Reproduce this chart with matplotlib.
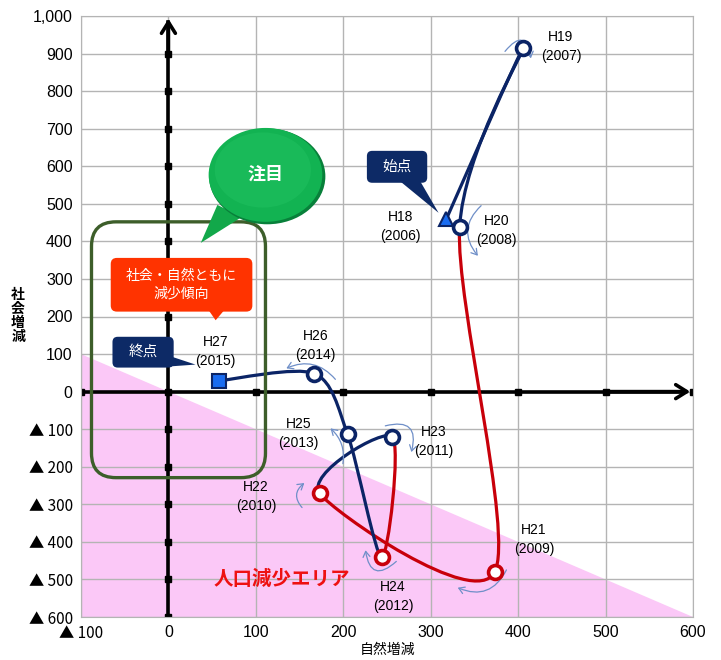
import matplotlib.pyplot as plt
import numpy as np
from matplotlib.path import Path
from matplotlib.patches import PathPatch, Polygon, Ellipse, FancyBboxPatch, FancyArrowPatch

plt.rcParams['font.family'] = ['Liberation Sans', 'Noto Sans CJK JP', 'DejaVu Sans']

# data
years = ['H18\n(2006)', 'H19\n(2007)', 'H20\n(2008)', 'H21\n(2009)', 'H22\n(2010)',
         'H23\n(2011)', 'H24\n(2012)', 'H25\n(2013)', 'H26\n(2014)', 'H27\n(2015)']
natural = [318, 406, 333, 373, 173, 256, 244, 205, 167, 58]      # 自然増減
social = [460, 915, 437, -481, -271, -120, -441, -114, 48, 29]   # 社会増減

x_ticks = [-100, 0, 100, 200, 300, 400, 500, 600]
x_ticklabels = ['▲ 100', '0', '100', '200', '300', '400', '500', '600']
y_ticks = list(range(-600, 1001, 100))
y_ticklabels = ['▲ 600', '▲ 500', '▲ 400', '▲ 300', '▲ 200', '▲ 100', '0',
                '100', '200', '300', '400', '500', '600', '700', '800', '900', '1,000']

navy = '#0b2466'
red = '#c8000a'
seg_colors = [navy, navy, red, red, navy, red, navy, navy, navy]
pt_edges = [navy, navy, navy, red, red, navy, red, navy, navy, navy]

# label positions (data units)
lab_x = [265, 449, 375, 418, 100, 303, 257, 149, 168, 54]
lab_y = [439, 919, 428, -394, -279, -133, -545, -112, 122, 106]

fig = plt.figure(figsize=(7.21, 6.6), dpi=100)
ax = fig.add_axes([81 / 721, 1 - 617 / 660, 612 / 721, 601 / 660])
ax.set_xlim(-100, 600)
ax.set_ylim(-600, 1000)

# population decrease area
ax.add_patch(Polygon([(-100, 100), (600, -600), (-100, -600)], closed=True,
                     facecolor='#fbc8f7', edgecolor='none', zorder=0))

ax.set_xticks(x_ticks)
ax.set_xticklabels(x_ticklabels, fontsize=11.5)
ax.set_yticks(y_ticks)
ax.set_yticklabels(y_ticklabels, fontsize=11.5)
for t in ax.get_xticklabels() + ax.get_yticklabels():
    if t.get_text().startswith('▲'):
        t.set_family(['Noto Sans CJK JP', 'DejaVu Sans'])
        t.set_fontsize(11)
ax.tick_params(length=0, pad=6)
ax.grid(True, color='#b4b4b4', lw=1)
ax.set_axisbelow(True)
for s in ax.spines.values():
    s.set_color('#b4b4b4')

# thick axes with arrows
ax.plot([0, 0], [-600, 985], color='black', lw=2.6, zorder=2)
ax.plot([-100, 590], [0, 0], color='black', lw=2.6, zorder=2)
ax.annotate('', xy=(0, 1000), xytext=(0, 900),
            arrowprops=dict(arrowstyle='->,head_length=0.8,head_width=0.5', lw=2.6, color='black'), zorder=2)
ax.annotate('', xy=(600, 0), xytext=(500, 0),
            arrowprops=dict(arrowstyle='->,head_length=0.8,head_width=0.5', lw=2.6, color='black'), zorder=2)
ax.plot([0] * 16, y_ticks[:-1], 's', color='black', ms=5, zorder=2)
ax.plot([t for t in x_ticks if t != 0], [0] * 7, 's', color='black', ms=5, zorder=2)

# smoothed line, one bezier piece per year
P = np.column_stack([natural, social]).astype(float)
Pp = np.vstack([P[0], P, P[-1]])
for i in range(len(P) - 1):
    p0, p1, p2, p3 = Pp[i], Pp[i + 1], Pp[i + 2], Pp[i + 3]
    c1 = p1 + (p2 - p0) / 7
    c2 = p2 - (p3 - p1) / 7
    path = Path([p1, c1, c2, p2], [Path.MOVETO, Path.CURVE4, Path.CURVE4, Path.CURVE4])
    ax.add_patch(PathPatch(path, facecolor='none', edgecolor=seg_colors[i], lw=2.3, zorder=3))

# markers
for i in range(1, 9):
    ax.plot(natural[i], social[i], 'o', ms=10, mfc='white', mec=pt_edges[i], mew=2.6, zorder=4)
ax.plot(natural[0], social[0], '^', ms=10, mfc='#1a6cf0', mec=navy, mew=1.5, zorder=4)
ax.plot(natural[-1], social[-1], 's', ms=10, mfc='#1a6cf0', mec=navy, mew=1.5, zorder=4)

for lbl, lx, ly in zip(years, lab_x, lab_y):
    ax.text(lx, ly, lbl, ha='center', va='center', fontsize=10, linespacing=1.45, zorder=5)

# thin curved arrows around points
arcs = [((383, 900), (415, 880), -1.2), ((360, 500), (356, 356), 0.5),
        ((388, -468), (328, -519), -0.5), ((155, -314), (158, -239), -0.6),
        ((245, -93), (277, -168), -0.9), ((263, -447), (225, -415), -1.0),
        ((199, -199), (183, -93), 0.3), ((193, 27), (132, 59), 0.4)]
for a, b, r in arcs:
    ax.add_patch(FancyArrowPatch(a, b, connectionstyle=f'arc3,rad={r}',
                                 arrowstyle='->,head_length=4,head_width=2.5',
                                 color='#6f8fc8', lw=0.9, zorder=3))

asp = (1600 / 601) / (700 / 612)

# green focus frame
ax.add_patch(FancyBboxPatch((-88, -229), 199, 681,
                            boxstyle='round,pad=0,rounding_size=28', mutation_aspect=asp,
                            facecolor='none', edgecolor='#3d5e2a', lw=2.4, zorder=5))

# green bubble 注目
ax.add_patch(Polygon([(56, 497), (84, 465), (37, 396)], closed=True,
                     facecolor='#12a84a', edgecolor='none', zorder=6))
ax.add_patch(Ellipse((113, 573), 133, 255, facecolor='#08803a', edgecolor='none', zorder=6))
ax.add_patch(Ellipse((111, 577), 130, 250, facecolor='#12b352', edgecolor='none', zorder=6))
ax.add_patch(Ellipse((108, 590), 110, 200, facecolor='#1fbf5e', edgecolor='none', alpha=0.6, zorder=6))
ax.text(111, 577, '注目', color='white', fontsize=13, fontweight='bold', ha='center', va='center', zorder=7)

# red box
ax.add_patch(Polygon([(45, 220), (65, 220), (54, 190)], closed=True,
                     facecolor='#ff3300', edgecolor='none', zorder=6))
ax.add_patch(FancyBboxPatch((-66, 213), 162, 143,
                            boxstyle='round,pad=0,rounding_size=7', mutation_aspect=asp,
                            facecolor='#ff3300', edgecolor='none', zorder=6))
ax.text(15, 285, '社会・自然ともに\n減少傾向', color='white', fontsize=10, ha='center', va='center',
        linespacing=1.3, zorder=7)

# start / end boxes
ax.add_patch(Polygon([(265, 560), (288, 560), (309, 476)], closed=True,
                     facecolor='#0d2a66', edgecolor='none', zorder=6))
ax.add_patch(FancyBboxPatch((227, 556), 69, 85,
                            boxstyle='round,pad=0,rounding_size=6', mutation_aspect=asp,
                            facecolor='#0d2a66', edgecolor='none', zorder=6))
ax.text(261, 598, '始点', color='white', fontsize=10.5, ha='center', va='center', zorder=7)

ax.add_patch(Polygon([(-5, 66), (5, 92), (31, 72)], closed=True,
                     facecolor='#0d2a66', edgecolor='none', zorder=6))
ax.add_patch(FancyBboxPatch((-64, 64), 70, 82,
                            boxstyle='round,pad=0,rounding_size=6', mutation_aspect=asp,
                            facecolor='#0d2a66', edgecolor='none', zorder=6))
ax.text(-29, 105, '終点', color='white', fontsize=10.5, ha='center', va='center', zorder=7)

ax.text(130, -500, '人口減少エリア', color='#ee1111', fontsize=14, fontweight='bold',
        ha='center', va='center', zorder=5)

# axis titles
fig.text(18 / 721, 1 - 316 / 660, '社\n会\n増\n減', fontsize=10, fontweight='bold',
         ha='center', va='center', linespacing=1.0)
fig.text(388 / 721, 1 - 650 / 660, '自然増減', fontsize=10, ha='center', va='center')

fig.savefig('out.png', dpi=100)
